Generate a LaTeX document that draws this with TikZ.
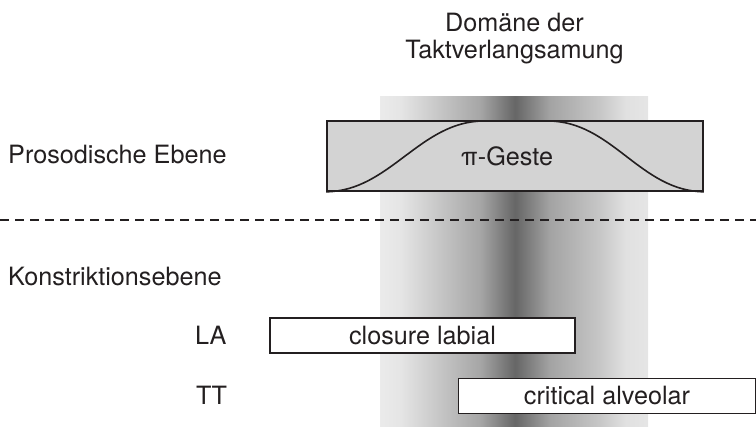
\documentclass[tikz,border=0pt]{standalone}
\usepackage{fontspec}
\setmainfont{TeX Gyre Heros}
\usetikzlibrary{positioning}
\definecolor{ink}{RGB}{35,31,32}
\definecolor{gestgray}{RGB}{211,211,211}
\pgfdeclarehorizontalshading{taktband}{100bp}{color(0bp)=(black!8); color(25bp)=(black!8);
  color(28.7bp)=(black!10); color(43.7bp)=(black!35); color(50.2bp)=(black!60);
  color(56.7bp)=(black!36); color(66bp)=(black!22); color(70.7bp)=(black!12);
  color(75bp)=(black!10); color(100bp)=(black!10)}

\begin{document}
\begin{tikzpicture}[x=1pt, y=-1pt,
    lbl/.style={font=\fontsize{25.2}{27}\selectfont, text=ink, inner sep=0pt},
    bar/.style={lbl, draw=ink, fill=white, line width=1.6pt, minimum height=35pt},
    gestbox/.style={draw=ink, fill=gestgray, line width=1.6pt, minimum width=376pt, minimum height=70pt}]
  \useasboundingbox (0,0) rectangle (756,436);
  % Domaene der Taktverlangsamung
  \shade[shading=taktband] (380,97) rectangle (648,426);
  \node[lbl, align=center, anchor=base] (domain) at (514.5,59) {Domäne der\\Taktverlangsamung};
  % prosodische Ebene
  \node[lbl, anchor=base west] (pros) at (8,163) {Prosodische Ebene};
  \node[gestbox] (pibox) at (515,156) {};
  \draw[ink, line width=1.6pt] (pibox.south west) .. controls (390,191) and (420,121) .. (484,121)
    -- (548,121) .. controls (612,121) and (640,191) .. (pibox.south east);
  \node[lbl] (pi) at (507,156) {π-Geste};
  \coordinate (sepL) at (0,220);
  \coordinate (sepR) at (756,220);
  \draw[ink, line width=1.3pt, dash pattern=on 9pt off 6pt] (sepL) -- (sepR);
  % Konstriktionsebene
  \node[lbl, anchor=base west] (konst) at (8,285) {Konstriktionsebene};
  \node[lbl, anchor=base west] (la) at (195,344) {LA};
  \node[lbl, anchor=base west] (tt) at (196,404) {TT};
  \node[bar, minimum width=305pt] (clos) at (422.5,335.5) {closure labial};
  \node[bar, minimum width=297pt] (crit) at (607,396) {critical alveolar};
\end{tikzpicture}
\end{document}
